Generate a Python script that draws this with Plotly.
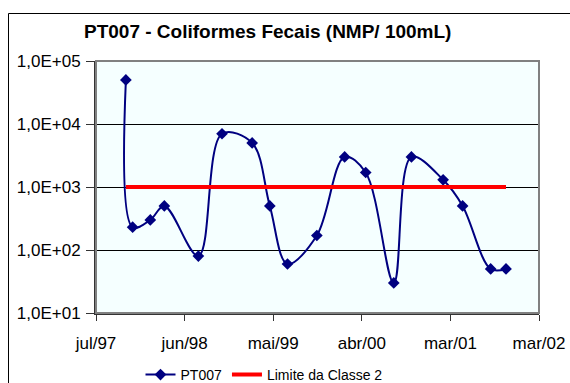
import plotly.graph_objects as go

# Sampling dates and fecal coliform counts (NMP/100mL) at station PT007
dates = [
    "1997-10-24", "1997-11-19", "1998-01-26", "1998-03-21", "1998-07-30",
    "1998-10-29", "1999-02-22", "1999-05-01", "1999-07-08", "1999-10-29",
    "2000-02-13", "2000-05-04", "2000-08-20", "2000-10-27", "2001-02-26",
    "2001-05-12", "2001-08-28", "2001-10-26",
]
pt007 = [50000, 230, 300, 500, 80, 7000, 5000, 500, 60, 170,
         3000, 1700, 30, 3000, 1300, 500, 50, 50]
# Class 2 limit value
limite = [1000] * len(dates)

y_ticks = [10, 100, 1000, 10000, 100000]
y_labels = ["1,0E+01", "1,0E+02", "1,0E+03", "1,0E+04", "1,0E+05"]
x_ticks = ["1997-07-01", "1998-06-07", "1999-05-14", "2000-04-19",
           "2001-03-26", "2002-03-02"]
x_labels = ["jul/97", "jun/98", "mai/99", "abr/00", "mar/01", "mar/02"]

FONT = "Liberation Sans, Arial, sans-serif"

# Plot area in pixels
W, H = 570, 383
L, R, T, B = 96, 539, 61, 313
pw, ph = R - L, B - T


def px(x):
    return (x - L) / pw


def py(y):
    return (B - y) / ph


fig = go.Figure()
fig.add_trace(go.Scatter(
    x=dates, y=pt007, name="PT007", mode="lines+markers",
    line=dict(color="#000080", width=2, shape="spline", smoothing=1.0),
    marker=dict(symbol="diamond", size=9, color="#000080"),
))
fig.add_trace(go.Scatter(
    x=dates, y=limite, name="Limite da Classe 2", mode="lines",
    line=dict(color="#FF0000", width=4),
))

fig.update_layout(
    width=W, height=H,
    margin=dict(l=L, r=W - R, t=T, b=H - B, pad=0, autoexpand=False),
    paper_bgcolor="white",
    plot_bgcolor="#F5FFFF",
    font=dict(family=FONT, size=17, color="black"),
    showlegend=True,
    legend=dict(
        orientation="h", xref="container", yref="container",
        x=264 / W, y=1 - 375 / H, xanchor="center", yanchor="middle",
        font=dict(size=14, family=FONT), bgcolor="rgba(0,0,0,0)",
        itemwidth=30, tracegroupgap=0,
    ),
    annotations=[dict(
        text="<b>PT007 - Coliformes Fecais (NMP/ 100mL)</b>",
        x=px(267), y=py(32), xref="paper", yref="paper",
        xanchor="center", yanchor="middle", showarrow=False,
        font=dict(size=19, family=FONT, color="black"),
    )],
    shapes=[
        # plot-area frame (grey top/right)
        dict(type="rect", xref="paper", yref="paper", x0=0, x1=1, y0=0, y1=1,
             line=dict(color="#808080", width=2), layer="above"),
        # outer chart border
        dict(type="path", xref="paper", yref="paper",
             path=f"M {px(8.5)},{py(400)} L {px(8.5)},{py(13.5)} L {px(575)},{py(13.5)}",
             line=dict(color="black", width=1)),
    ],
)

fig.update_xaxes(
    type="date", range=[x_ticks[0], x_ticks[-1]],
    tickmode="array", tickvals=x_ticks, ticktext=x_labels,
    showgrid=False, zeroline=False, automargin=False,
    showline=True, linecolor="#333333", linewidth=2,
    ticks="outside", ticklen=6, tickcolor="#333333", tickwidth=1,
    tickfont=dict(size=17, family=FONT), ticklabelstandoff=8,
)
fig.update_yaxes(
    type="log", range=[1, 5],
    tickmode="array", tickvals=y_ticks, ticktext=y_labels,
    showgrid=True, gridcolor="black", gridwidth=1, zeroline=False,
    automargin=False,
    showline=True, linecolor="#333333", linewidth=2,
    ticks="outside", ticklen=8, tickcolor="#333333", tickwidth=1,
    tickfont=dict(size=17, family=FONT), ticklabelstandoff=2,
)

fig.write_html("out.html")
